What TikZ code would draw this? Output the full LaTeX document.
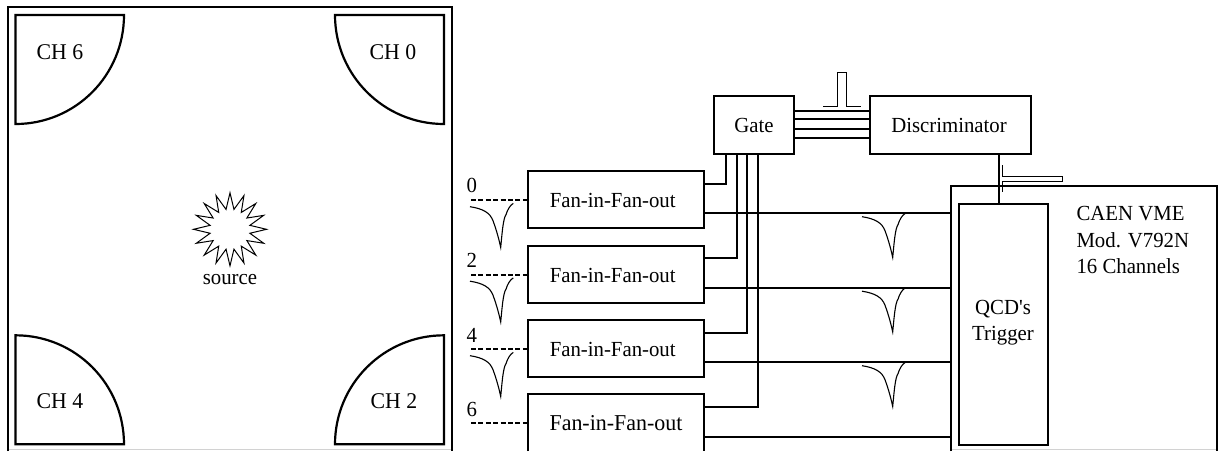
\documentclass[tikz,border=0pt]{standalone}
\usepackage{fontspec}
\newfontfamily\rmf[FakeStretch=0.967]{Liberation Serif}
\usetikzlibrary{shapes.geometric}
\tikzset{
  x=1pt,y=-1pt,
  lbl/.style={inner sep=0pt,outer sep=0pt,font=\fontsize{21.5}{26}\rmf,align=left},
  boxn/.style={draw,line width=2pt,inner sep=0pt,outer sep=0pt},
  fanbox/.style={boxn,minimum width=176pt,minimum height=57pt},
  wire/.style={line width=2pt},
  thinw/.style={line width=1pt},
  det/.style={line width=2.2pt,line join=miter},
  dashw/.style={line width=1.9pt,dash pattern=on 5pt off 2.4pt},
  pulse/.pic={\draw[line width=1.1pt] (0,0) .. controls (13,2) and (20,6) .. (23,14) .. controls (27,25) and (29,33) .. (30.7,40.7) .. controls (32,28) and (33,12) .. (36,8) .. controls (37.5,3) and (40,-1.5) .. (43.3,-3.3);}
}
\begin{document}
\begin{tikzpicture}
\useasboundingbox (0,0) rectangle (1218,451);
\fill[white] (0,0) rectangle (1218,451);
% left panel
\draw[gray!35,line width=1pt] (7.5,449) -- (452,449);
\draw[gray!35,line width=1pt] (951,449) -- (1216,449);
\coordinate (fa) at (7.5,451); \coordinate (fb) at (7.5,7); \coordinate (fc) at (452,7); \coordinate (fd) at (452,451);
\draw[wire] (fa) -- (fb) -- (fc) -- (fd);
\draw[det] (15.5,15) -- (124,15) .. controls (124,75.2) and (75.7,124) .. (15.5,124) -- cycle;
\draw[det] (444,15) -- (335,15) .. controls (335,75.2) and (383.8,124) .. (444,124) -- cycle;
\draw[det] (15.5,444.3) -- (124,444.3) .. controls (124,384.1) and (75.7,335.3) .. (15.5,335.3) -- cycle;
\draw[det] (444,444.3) -- (335,444.3) .. controls (335,384.1) and (383.8,335.3) .. (444,335.3) -- cycle;
\node[lbl,font=\fontsize{22.5}{26}\rmf] (ch6) at (60,52.5) {CH 6};
\node[lbl,font=\fontsize{22.5}{26}\rmf] (ch0) at (393,52.5) {CH 0};
\node[lbl,font=\fontsize{22.5}{26}\rmf] (ch4) at (60,401.5) {CH 4};
\node[lbl,font=\fontsize{22.5}{26}\rmf] (ch2) at (394,401.5) {CH 2};
\node[star,star points=16,star point ratio=1.8,minimum size=73pt,draw,line width=1pt,inner sep=0pt,outer sep=0pt] (src) at (230,229.3) {};
\node[lbl] (srct) at (230,279.5) {source};
% boxes
\node[boxn,minimum width=80pt,minimum height=57.4pt] (gate) at (753.6,125) {};
\node[lbl] (gatet) at (754,125) {Gate};
\node[boxn,minimum width=161.4pt,minimum height=57.4pt] (disc) at (950.4,125) {};
\node[lbl] (disct) at (949,125) {Discriminator};
\node[fanbox] (f0) at (616,199.5) {};
\node[fanbox] (f2) at (616,274.5) {};
\node[fanbox] (f4) at (616,348.5) {};
\coordinate (f6tl) at (528,451); \coordinate (f6l) at (528,394); \coordinate (f6r) at (704,394); \coordinate (f6br) at (704,451);
\draw[wire] (f6tl) -- (f6l) -- (f6r) -- (f6br);
\node[lbl] (f0t) at (612.7,200) {Fan-in-Fan-out};
\node[lbl] (f2t) at (612.7,275) {Fan-in-Fan-out};
\node[lbl] (f4t) at (612.7,349.5) {Fan-in-Fan-out};
\node[lbl,font=\fontsize{22.7}{26}\rmf] (f6t) at (616,423.5) {Fan-in-Fan-out};
% VME module
\coordinate (va) at (951.3,451); \coordinate (vb) at (951.3,185.7); \coordinate (vc) at (1216.5,185.7); \coordinate (vd) at (1216.5,451);
\draw[wire] (va) -- (vb) -- (vc) -- (vd);
\node[boxn,minimum width=89pt,minimum height=240.7pt] (trig) at (1003.2,324.7) {};
\node[lbl,align=center] (trigt) at (1003,323) {QCD's\\Trigger};
\node[lbl,font=\fontsize{21.5}{26.6}\rmf,anchor=north west] (caen) at (1076.5,206.5) {CAEN VME\\Mod. V792N\\16 Channels};
% gate-discriminator
\foreach \yy in {111,119.3,129,138}{
  \draw[wire] (gate.east |- 0,\yy) -- (disc.west |- 0,\yy);
}
% gate to fans
\draw[wire] (gate.south -| 726,0) |- (f0.east |- 0,183.7);
\draw[wire] (gate.south -| 736.8,0) |- (f2.east |- 0,258);
\draw[wire] (gate.south -| 747.3,0) |- (f4.east |- 0,332.7);
\draw[wire] (gate.south -| 757.8,0) |- (f6r |- 0,407);
% outputs
\draw[wire] (f0.east |- 0,212.7) -- (vb |- 0,212.7);
\draw[wire] (f2.east |- 0,287.7) -- (vb |- 0,287.7);
\draw[wire] (f4.east |- 0,362.3) -- (vb |- 0,362.3);
\draw[wire] (f6r |- 0,436.7) -- (vb |- 0,436.7);
% discriminator to trigger
\draw[wire] (disc.south -| 999,0) -- (trig.north -| 999,0);
% pulses
\draw[thinw] (823,106) -- (837,106) -- (837,72.7) -- (846.3,72.7) -- (846.3,106) -- (860.7,106);
\draw[thinw] (1002.3,165) -- (1002.3,176.7) -- (1062.3,176.7) -- (1062.3,181.7) -- (1002.3,181.7) -- (1002.3,191.7);
% inputs
\coordinate (i0) at (471,200); \coordinate (i2) at (471,274.7); \coordinate (i4) at (471,349); \coordinate (i6) at (471,423.2);
\draw[dashw] (i0) -- (f0.west |- i0);
\draw[dashw] (i2) -- (f2.west |- i2);
\draw[dashw] (i4) -- (f4.west |- i4);
\draw[dashw] (i6) -- (f6l |- i6);
\node[lbl] (n0) at (471.7,185.7) {0};
\node[lbl] (n2) at (471.7,260) {2};
\node[lbl] (n4) at (471.7,335) {4};
\node[lbl] (n6) at (471.7,409.3) {6};
\foreach \dy in {0,74.5,149}{
  \pic at (470,206.7+\dy) {pulse};
  \pic at (862,216.7+\dy) {pulse};
}
\end{tikzpicture}
\end{document}
